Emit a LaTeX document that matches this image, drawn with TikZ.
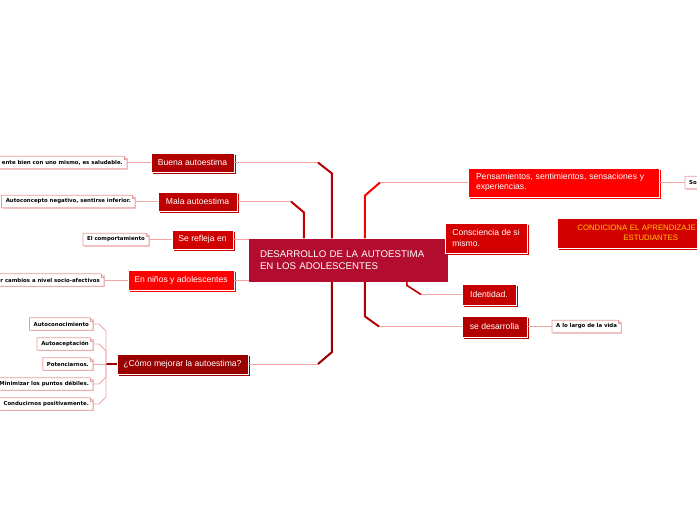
\documentclass[tikz,border=0pt]{standalone}
\usepackage{fontspec}
\setmainfont{Liberation Sans}
\newfontfamily\notefont{DejaVu Sans}
\usetikzlibrary{shadows}
\definecolor{mapHub}{HTML}{B20D2F}
\definecolor{mapBuena}{HTML}{B00000}
\definecolor{mapMala}{HTML}{BE0000}
\definecolor{mapRefleja}{HTML}{D00000}
\definecolor{mapNinos}{HTML}{FF0000}
\definecolor{mapComo}{HTML}{990000}
\definecolor{mapPens}{HTML}{FF0000}
\definecolor{mapConsc}{HTML}{D40000}
\definecolor{mapIdent}{HTML}{C40000}
\definecolor{mapDes}{HTML}{B20000}
\definecolor{mapCondic}{HTML}{D30000}
\definecolor{mapGold}{HTML}{FFCC00}
\definecolor{mapTwig}{HTML}{F0A4A4}
\definecolor{mapNote}{HTML}{E69C9C}
\definecolor{mapNoteShadow}{HTML}{F4CACA}

\begin{document}
\begin{tikzpicture}[
    x=1pt,y=-1pt,
    every node/.style={align=left},
    hub/.style={fill=mapHub,text=white,font=\fontsize{9.7}{12}\selectfont,text width=177pt,inner xsep=11pt,minimum height=43pt},
    branch/.style={fill=#1,draw=white,line width=0.8pt,text=white,font=\fontsize{8.6}{10.5}\selectfont,inner xsep=4pt,minimum height=19pt,drop shadow={shadow xshift=2pt,shadow yshift=-2pt,fill=#1,opacity=1}},
    note/.style={fill=white,font=\notefont\bfseries\fontsize{5.4}{6}\selectfont,inner xsep=4pt,inner ysep=0pt,minimum height=12pt,drop shadow={shadow xshift=1pt,shadow yshift=-1pt,fill=mapNoteShadow,opacity=1}},
    noteline/.style={draw=mapNote,line width=0.7pt},
    twig/.style={draw=mapTwig,line width=0.9pt},
    trunk/.style={draw=#1,line width=2pt,line join=round}
]
\useasboundingbox (0,0) rectangle (697,520);
\clip (0,0) rectangle (697,520);

% centre
\node[hub] (hub) at (348.5,260) {DESARROLLO DE LA AUTOESTIMA\\EN LOS ADOLESCENTES};

% left branches
\node[branch=mapBuena,minimum width=83pt] (buena) at (192.5,162.5) {Buena autoestima};
\node[branch=mapMala,minimum width=79pt] (mala) at (197.5,201.5) {Mala autoestima};
\node[branch=mapRefleja,minimum width=61pt] (refleja) at (202.5,239.5) {Se refleja en};
\node[branch=mapNinos,minimum width=106pt,minimum height=20pt] (ninos) at (181,280) {En niños y adolescentes};
\node[branch=mapComo,minimum width=131pt,minimum height=20pt] (como) at (182.5,364) {¿Cómo mejorar la autoestima?};

% right branches
\node[branch=mapPens,text width=175pt,inner xsep=8pt,minimum height=29pt] (pens) at (563.5,182.5) {Pensamientos, sentimientos, sensaciones y\\experiencias.};
\node[branch=mapConsc,minimum width=82pt,minimum height=30pt] (consc) at (486,238) {Consciencia de si\\mismo.};
\node[branch=mapIdent,minimum width=54pt,minimum height=21pt] (ident) at (489,294.5) {Identidad.};
\node[branch=mapDes,minimum width=65pt,minimum height=21pt] (desarr) at (494.5,326.5) {se desarrolla};
\node[branch=mapCondic,text=mapGold,font=\fontsize{7.8}{10}\selectfont,anchor=west,text width=150pt,inner xsep=20pt,minimum height=30pt] (condic) at (557,233) {CONDICIONA EL APRENDIZAJE\\\hspace*{46pt}ESTUDIANTES};

% notes
\node[note,anchor=east] (leafBuena) at (127,162.5) {ente bien con uno mismo, es saludable.};
\node[note,anchor=east] (leafMala) at (135,201.5) {Autoconcepto negativo, sentirse inferior.};
\node[note,anchor=east] (leafRefleja) at (149,239.5) {El comportamiento};
\node[note,anchor=east] (leafNinos) at (104,280) {r cambios a nivel socio-afectivos};
\node[note,anchor=east] (cl1) at (93,324) {Autoconocimiento};
\node[note,anchor=east] (cl2) at (93,344) {Autoaceptación};
\node[note,anchor=east] (cl3) at (93,364) {Potenciarnos.};
\node[note,anchor=east] (cl4) at (93,384) {Minimizar los puntos débiles.};
\node[note,anchor=east] (cl5) at (93,404) {Conducirnos positivamente.};
\node[note,anchor=west] (leafLargo) at (552,326.5) {A lo largo de la vida};
\node[note,anchor=west] (leafSo) at (685,182.5) {So};

\foreach \n in {leafBuena,leafMala,leafRefleja,leafNinos,cl1,cl2,cl3,cl4,cl5,leafLargo,leafSo}{
  \draw[noteline] (\n.south west) -- (\n.north west) -- ([xshift=-3pt]\n.north east) -- ([yshift=-3pt]\n.north east) -- (\n.south east) -- cycle;
  \draw[noteline,line width=0.5pt] ([xshift=-3pt]\n.north east) -- ([xshift=-3pt,yshift=-3pt]\n.north east) -- ([yshift=-3pt]\n.north east);
}

% bends
\coordinate (kBuena) at (318,162.5);
\coordinate (kMala) at (291,201.5);
\coordinate (kComo) at (318,364);
\coordinate (kPens) at (380,182.5);
\coordinate (kIdent) at (421,294.5);
\coordinate (kDes) at (379,326.5);
\coordinate (fork) at (106,364);

% connectors
\draw[twig] (buena) -- (kBuena);
\draw[trunk=mapBuena] (kBuena) -- ++(14,11) -- ([xshift=83pt]hub.north west);
\draw[twig] (mala) -- (kMala);
\draw[trunk=mapMala] (kMala) -- ++(13,11) -- ([xshift=55pt]hub.north west);
\draw[twig] (refleja) -- (refleja -| hub.west);
\draw[twig] (ninos) -- (ninos -| hub.west);
\draw[twig] (como) -- (kComo);
\draw[trunk=mapComo] (kComo) -- ++(14,-12) -- ([xshift=83pt]hub.south west);
\draw[twig] (pens) -- (kPens);
\draw[trunk=mapPens] (kPens) -- ++(-15,13) -- ([xshift=116pt]hub.north west);
\draw[twig] (ident) -- (kIdent);
\draw[trunk=mapIdent,line width=1.6pt] (kIdent) -- ++(-14,-9) -- ([xshift=158pt]hub.south west);
\draw[twig] (desarr) -- (kDes);
\draw[trunk=mapDes] (kDes) -- ++(-14,-10) -- ([xshift=116pt]hub.south west);

\draw[twig] (leafBuena) -- (buena);
\draw[twig] (leafMala) -- (mala);
\draw[twig] (leafRefleja) -- (refleja);
\draw[twig] (leafNinos) -- (ninos);
\draw[twig] (leafLargo) -- (desarr);
\draw[twig] (leafSo) -- (pens);
\draw[trunk=mapComo,line width=1.4pt] (como) -- (fork);
\draw[twig] (cl3) -- (fork);
\foreach \n/\d in {cl1/7,cl2/7,cl4/-7,cl5/-7}
  \draw[twig] (\n.east) -- ++(6,0) -- ++(7,\d) -- (fork);
\end{tikzpicture}
\end{document}
